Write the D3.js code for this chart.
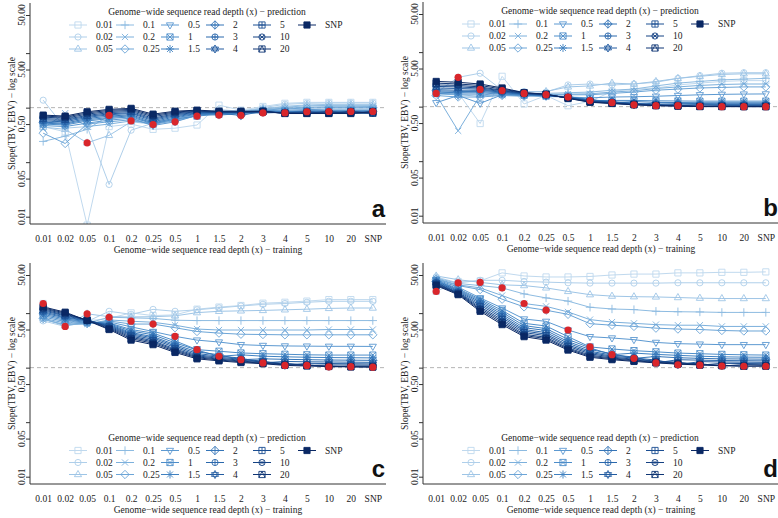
<!DOCTYPE html>
<html>
<head>
<meta charset="utf-8">
<script src="https://cdn.jsdelivr.net/npm/d3@7"></script>
<style>
  body { margin: 0; background: #fff; }
  text { font-family: "Liberation Serif", "Times New Roman", serif; }
  text.letter { font-family: "Liberation Sans", Arial, sans-serif; font-weight: bold; }
</style>
</head>
<body>
<svg id="chart" width="778" height="518"></svg>
<script>
// read depths, used both as training (x) and prediction (series)
const depths = ["0.01", "0.02", "0.05", "0.1", "0.2", "0.25", "0.5", "1", "1.5", "2", "3", "4", "5", "10", "20", "SNP"];
const yTicks = [0.01, 0.05, 0.1, 0.5, 1, 5, 10, 50];
const yTickLabels = ["0.01", "0.05", "", "0.50", "", "5.00", "", "50.00"];

// rows = prediction depth (series), columns = training depth
const panelA = [
  [0.45, 0.36, 0.007, 0.45, 0.50, 0.40, 0.42, 0.48, 1.11, 0.90, 1.05, 1.20, 1.25, 1.25, 1.25, 1.25],
  [1.37, 0.42, 0.45, 0.039, 0.386, 0.52, 0.56, 0.72, 0.92, 0.86, 1.00, 1.15, 1.20, 1.22, 1.22, 1.22],
  [0.44, 0.40, 0.226, 0.31, 0.55, 0.50, 0.60, 0.74, 0.86, 0.86, 0.96, 1.06, 1.12, 1.15, 1.15, 1.15],
  [0.24, 0.30, 0.40, 0.72, 0.62, 0.55, 0.62, 0.75, 0.84, 0.84, 0.94, 1.02, 1.08, 1.10, 1.10, 1.10],
  [0.42, 0.79, 0.45, 0.50, 0.57, 0.52, 0.60, 0.74, 0.82, 0.82, 0.92, 0.98, 1.02, 1.04, 1.04, 1.05],
  [0.34, 0.22, 0.50, 0.55, 0.60, 0.49, 0.58, 0.72, 0.80, 0.82, 0.90, 0.95, 0.98, 1.00, 1.00, 1.00],
  [0.47, 0.45, 0.52, 0.59, 0.64, 0.47, 0.55, 0.72, 0.78, 0.80, 0.88, 0.90, 0.92, 0.94, 0.94, 0.94],
  [0.50, 0.48, 0.57, 0.63, 0.68, 0.50, 0.62, 0.70, 0.76, 0.78, 0.87, 0.86, 0.88, 0.88, 0.88, 0.88],
  [0.52, 0.50, 0.60, 0.66, 0.71, 0.52, 0.65, 0.76, 0.73, 0.78, 0.86, 0.84, 0.86, 0.86, 0.86, 0.86],
  [0.54, 0.52, 0.63, 0.70, 0.74, 0.55, 0.68, 0.78, 0.79, 0.72, 0.86, 0.83, 0.84, 0.84, 0.84, 0.84],
  [0.57, 0.55, 0.66, 0.74, 0.78, 0.58, 0.71, 0.80, 0.80, 0.80, 0.80, 0.82, 0.82, 0.82, 0.82, 0.82],
  [0.60, 0.58, 0.69, 0.77, 0.81, 0.61, 0.74, 0.82, 0.81, 0.81, 0.84, 0.80, 0.81, 0.81, 0.81, 0.81],
  [0.63, 0.61, 0.72, 0.81, 0.85, 0.64, 0.77, 0.84, 0.82, 0.82, 0.84, 0.80, 0.84, 0.80, 0.80, 0.80],
  [0.67, 0.64, 0.76, 0.85, 0.89, 0.68, 0.80, 0.86, 0.83, 0.83, 0.84, 0.79, 0.79, 0.85, 0.79, 0.79],
  [0.70, 0.67, 0.80, 0.89, 0.93, 0.72, 0.83, 0.88, 0.84, 0.84, 0.85, 0.79, 0.79, 0.79, 0.85, 0.79],
  [0.73, 0.70, 0.84, 0.93, 0.97, 0.76, 0.86, 0.90, 0.86, 0.86, 0.86, 0.78, 0.78, 0.78, 0.78, 0.85]
];

const panelB = [
  [1.75, 1.80, 0.49, 3.60, 1.12, 1.60, 1.04, 1.25, 1.90, 2.10, 2.20, 2.50, 2.70, 2.90, 3.00, 3.00],
  [1.80, 3.45, 4.10, 2.00, 1.90, 1.85, 2.50, 2.60, 2.50, 2.60, 2.80, 3.30, 3.70, 4.10, 4.20, 4.20],
  [1.90, 1.75, 2.07, 1.80, 1.85, 1.90, 2.30, 2.40, 2.70, 2.60, 2.90, 3.30, 3.60, 3.90, 4.00, 4.00],
  [1.70, 1.65, 1.55, 1.97, 1.72, 1.75, 1.80, 1.85, 2.00, 2.10, 2.40, 2.70, 2.90, 3.10, 3.20, 3.30],
  [1.65, 0.36, 1.60, 1.62, 1.75, 1.68, 1.70, 1.72, 1.85, 1.95, 2.15, 2.30, 2.45, 2.55, 2.60, 2.60],
  [1.60, 1.50, 1.50, 1.60, 1.55, 1.66, 1.65, 1.65, 1.75, 1.85, 2.00, 2.10, 2.20, 2.25, 2.30, 2.30],
  [1.18, 1.60, 1.15, 1.65, 1.58, 1.54, 1.50, 1.45, 1.50, 1.52, 1.55, 1.60, 1.65, 1.68, 1.70, 1.71],
  [1.75, 1.70, 1.70, 1.70, 1.62, 1.56, 1.54, 1.29, 1.30, 1.30, 1.28, 1.27, 1.26, 1.26, 1.26, 1.26],
  [1.85, 1.80, 1.80, 1.75, 1.65, 1.58, 1.52, 1.36, 1.18, 1.24, 1.20, 1.19, 1.18, 1.18, 1.18, 1.18],
  [1.95, 1.90, 1.90, 1.80, 1.68, 1.60, 1.50, 1.33, 1.25, 1.08, 1.17, 1.15, 1.14, 1.13, 1.13, 1.13],
  [2.05, 2.00, 2.00, 1.85, 1.70, 1.62, 1.48, 1.30, 1.22, 1.17, 1.04, 1.11, 1.10, 1.10, 1.10, 1.10],
  [2.20, 2.15, 2.10, 1.90, 1.72, 1.64, 1.46, 1.28, 1.20, 1.14, 1.10, 1.04, 1.07, 1.06, 1.06, 1.06],
  [2.35, 2.30, 2.20, 1.95, 1.75, 1.65, 1.45, 1.26, 1.18, 1.12, 1.08, 1.06, 1.01, 1.04, 1.04, 1.04],
  [2.50, 2.45, 2.30, 2.00, 1.78, 1.66, 1.44, 1.24, 1.16, 1.10, 1.06, 1.04, 1.02, 1.00, 1.01, 1.01],
  [2.70, 2.60, 2.45, 2.10, 1.80, 1.68, 1.43, 1.22, 1.15, 1.09, 1.05, 1.03, 1.01, 1.01, 1.00, 1.00],
  [2.90, 2.80, 2.60, 2.20, 1.80, 1.70, 1.42, 1.20, 1.14, 1.08, 1.04, 1.02, 1.00, 1.00, 1.00, 1.00]
];

const panelC = [
  [15.0, 7.5, 7.2, 8.0, 10.1, 9.0, 9.3, 11.8, 12.9, 13.8, 15.2, 15.8, 16.6, 17.7, 17.7, 17.7],
  [7.2, 5.7, 7.0, 10.8, 9.5, 11.7, 10.8, 11.5, 12.5, 13.5, 14.5, 15.0, 15.8, 16.5, 16.5, 16.5],
  [7.9, 5.8, 9.7, 8.6, 8.5, 8.6, 8.9, 10.2, 10.8, 11.0, 11.2, 11.5, 11.8, 12.2, 12.4, 12.4],
  [7.8, 6.0, 6.5, 8.4, 8.2, 8.0, 7.4, 7.3, 7.3, 7.3, 7.3, 7.3, 7.3, 7.3, 7.3, 7.3],
  [7.6, 6.2, 6.3, 7.5, 7.1, 6.8, 6.0, 5.1, 4.9, 4.9, 4.9, 4.9, 4.9, 5.0, 5.0, 5.0],
  [8.0, 6.6, 6.4, 7.2, 6.3, 6.3, 5.4, 4.6, 4.3, 4.1, 4.05, 4.0, 4.0, 4.0, 4.0, 4.0],
  [8.5, 7.0, 6.6, 6.9, 5.6, 4.6, 3.75, 3.2, 2.95, 2.64, 2.55, 2.5, 2.48, 2.46, 2.46, 2.45],
  [9.0, 7.4, 6.8, 6.6, 5.0, 4.3, 3.1, 2.14, 2.0, 1.86, 1.8, 1.76, 1.72, 1.7, 1.7, 1.7],
  [9.5, 7.8, 7.0, 6.4, 4.7, 4.0, 2.85, 2.1, 1.61, 1.72, 1.62, 1.58, 1.55, 1.53, 1.52, 1.51],
  [10.0, 8.2, 7.2, 6.2, 4.4, 3.7, 2.65, 1.95, 1.72, 1.4, 1.45, 1.42, 1.4, 1.38, 1.37, 1.36],
  [10.5, 8.5, 7.3, 6.0, 4.2, 3.5, 2.5, 1.82, 1.62, 1.5, 1.22, 1.3, 1.28, 1.27, 1.26, 1.25],
  [11.0, 8.9, 7.4, 5.8, 4.0, 3.3, 2.35, 1.72, 1.55, 1.42, 1.32, 1.1, 1.2, 1.19, 1.18, 1.17],
  [11.5, 9.2, 7.5, 5.6, 3.8, 3.1, 2.2, 1.65, 1.48, 1.37, 1.28, 1.2, 1.1, 1.12, 1.12, 1.11],
  [12.0, 9.6, 7.5, 5.4, 3.6, 2.95, 2.1, 1.58, 1.43, 1.32, 1.24, 1.17, 1.13, 1.03, 1.07, 1.06],
  [12.5, 10.0, 7.4, 5.2, 3.4, 2.8, 2.0, 1.52, 1.38, 1.28, 1.21, 1.13, 1.1, 1.07, 1.04, 1.04],
  [13.0, 10.4, 7.3, 5.0, 3.2, 2.64, 1.9, 1.45, 1.33, 1.24, 1.18, 1.1, 1.07, 1.05, 1.03, 1.02]
];

const panelD = [
  [25, 38, 39, 54.7, 48, 46, 46, 47, 50, 52, 52, 54.7, 54.7, 56, 56, 57],
  [46, 35.8, 40, 40, 38, 37, 36, 35.5, 35.5, 35.5, 35.5, 36, 36, 36, 36, 36],
  [48, 41, 36.7, 33, 32, 29, 25, 21.8, 20.5, 20, 19.8, 19.3, 18.8, 18.5, 18.5, 18.5],
  [44, 35, 32, 29, 22.5, 19, 16.6, 12.8, 11.9, 11.6, 10.8, 10.6, 10.5, 10.3, 10.3, 10.3],
  [43, 33, 29, 21, 15, 13.3, 10.5, 7.6, 6.85, 6.5, 6.15, 6.0, 6.0, 5.7, 5.7, 5.7],
  [42, 32, 27, 18, 13, 11.3, 9.5, 6.4, 6.0, 5.7, 5.3, 5.1, 5.0, 4.8, 4.7, 4.7],
  [41, 30, 19, 12.4, 7.8, 7.06, 4.9, 3.7, 3.5, 3.26, 2.9, 2.75, 2.7, 2.64, 2.64, 2.64],
  [40, 28, 18, 11.2, 6.5, 5.8, 3.7, 2.4, 2.2, 2.05, 1.95, 1.85, 1.8, 1.75, 1.72, 1.7],
  [39, 27, 17, 10.3, 5.9, 5.2, 3.3, 2.3, 1.73, 1.85, 1.75, 1.68, 1.62, 1.58, 1.56, 1.55],
  [38, 26, 16, 9.5, 5.4, 4.8, 3.0, 2.15, 1.8, 1.48, 1.6, 1.52, 1.48, 1.45, 1.44, 1.43],
  [37, 25, 15, 8.8, 5.0, 4.4, 2.8, 2.0, 1.7, 1.57, 1.22, 1.4, 1.37, 1.35, 1.34, 1.33],
  [36, 24, 14, 8.2, 4.7, 4.1, 2.6, 1.9, 1.62, 1.5, 1.38, 1.13, 1.29, 1.27, 1.26, 1.25],
  [35, 23.5, 13, 7.6, 4.4, 3.85, 2.45, 1.8, 1.56, 1.43, 1.32, 1.26, 1.11, 1.2, 1.19, 1.18],
  [34, 23, 12.2, 7.1, 4.1, 3.6, 2.3, 1.7, 1.5, 1.38, 1.28, 1.22, 1.18, 1.07, 1.14, 1.13],
  [33, 22.5, 11.5, 6.6, 3.9, 3.4, 2.2, 1.62, 1.45, 1.34, 1.25, 1.19, 1.14, 1.11, 1.06, 1.09],
  [32, 21.8, 10.8, 6.15, 3.7, 3.2, 2.1, 1.55, 1.4, 1.3, 1.22, 1.16, 1.12, 1.08, 1.07, 1.06]
];

// diagonal points (training = prediction) not visible in the reference
const hiddenDiag = [[0, 1], [], [], []];
const panelLetters = ["a", "b", "c", "d"];

const colors = d3.quantize(
  d3.interpolateRgbBasis(["#c0d9ee", "#80b4df", "#4287c8", "#1d58a0", "#0a2864"]), 16);

const svg = d3.select("#chart");

const PLOT_L = 30, PLOT_R = 386, PLOT_T = 3, PLOT_B = 224;

// R style plotting symbols, pch 0..15
function markPath(pch) {
  const r = 3.1;
  const sq = `M${-r},${-r}H${r}V${r}H${-r}Z`;
  const circ = `M${r},0A${r},${r} 0 1,1 ${-r},0A${r},${r} 0 1,1 ${r},0Z`;
  const plus = k => `M${-r * k},0H${r * k}M0,${-r * k}V${r * k}`;
  const cross = k => `M${-r * k},${-r * k}L${r * k},${r * k}M${-r * k},${r * k}L${r * k},${-r * k}`;
  const triUp = `M0,${-r * 1.3}L${r * 1.15},${r * 0.7}L${-r * 1.15},${r * 0.7}Z`;
  const triDown = `M0,${r * 1.3}L${r * 1.15},${-r * 0.7}L${-r * 1.15},${-r * 0.7}Z`;
  const dia = `M0,${-r * 1.35}L${r * 1.35},0L0,${r * 1.35}L${-r * 1.35},0Z`;
  switch (pch) {
    case 0: return sq;
    case 1: return circ;
    case 2: return triUp;
    case 3: return plus(1.35);
    case 4: return cross(1);
    case 5: return dia;
    case 6: return triDown;
    case 7: return sq + cross(1);
    case 8: return plus(1.3) + cross(0.95);
    case 9: return dia + plus(1.35);
    case 10: return circ + plus(1);
    case 11: return `M0,${-r * 1.3}L${r * 1.15},${r * 0.6}L${-r * 1.15},${r * 0.6}Z` +
                    `M0,${r * 1.3}L${r * 1.15},${-r * 0.6}L${-r * 1.15},${-r * 0.6}Z`;
    case 12: return sq + plus(1);
    case 13: return circ + cross(0.7);
    case 14: return sq + `M${-r},${r}L0,${-r}L${r},${r}`;
    default: return sq;
  }
}

function drawMark(g, pch, color, cx, cy) {
  g.append("path")
    .attr("transform", `translate(${cx},${cy})`)
    .attr("d", markPath(pch))
    .attr("fill", pch === 15 ? color : "none")
    .attr("stroke", color)
    .attr("stroke-width", 0.9);
}

const panels = [
  { data: panelA, ox: 0, oy: 0, legendTop: true },
  { data: panelB, ox: 393, oy: -1, legendTop: true },
  { data: panelC, ox: 0, oy: 260, legendTop: false },
  { data: panelD, ox: 393, oy: 260, legendTop: false }
];

panels.forEach((p, pi) => {
  const g = svg.append("g").attr("transform", `translate(${p.ox},${p.oy})`);

  const x = d3.scalePoint().domain(depths).range([PLOT_L, PLOT_R]).padding(0.6);
  const y = d3.scaleLog().domain([0.01, 50]).range([216.7, 15]);

  const clipId = `clip${pi}`;
  g.append("clipPath").attr("id", clipId)
    .append("rect")
    .attr("x", PLOT_L).attr("y", PLOT_T)
    .attr("width", PLOT_R - PLOT_L + 4).attr("height", PLOT_B - PLOT_T);

  // reference line at slope 1
  g.append("line")
    .attr("x1", PLOT_L).attr("x2", PLOT_R)
    .attr("y1", y(1)).attr("y2", y(1))
    .attr("stroke", "#b4b4b4")
    .attr("stroke-dasharray", "4,3");

  const plot = g.append("g").attr("clip-path", `url(#${clipId})`);

  const line = d3.line()
    .x((d, i) => x(depths[i]))
    .y(d => y(d));

  p.data.forEach((row, s) => {
    plot.append("path")
      .datum(row)
      .attr("d", line)
      .attr("fill", "none")
      .attr("stroke", colors[s])
      .attr("stroke-width", 1);
    row.forEach((v, t) => drawMark(plot, s, colors[s], x(depths[t]), y(v)));
  });

  // diagonal: training depth equals prediction depth
  plot.selectAll(".diag")
    .data(depths.map((d, i) => i).filter(i => !hiddenDiag[pi].includes(i)))
    .enter()
    .append("circle")
    .attr("cx", i => x(depths[i]))
    .attr("cy", i => y(p.data[i][i]))
    .attr("r", 3.6)
    .attr("fill", "#d9262b");

  // axes box (bty = "l")
  g.append("path")
    .attr("d", `M${PLOT_L},${PLOT_T}V${PLOT_B}H${PLOT_R}`)
    .attr("fill", "none")
    .attr("stroke", "#333")
    .attr("stroke-width", 1);

  const yAxis = g.append("g")
    .attr("transform", `translate(${PLOT_L},0)`)
    .call(d3.axisLeft(y).tickValues(yTicks).tickFormat("").tickSize(4).tickSizeOuter(0));
  yAxis.select(".domain").remove();
  yAxis.selectAll("line").attr("stroke", "#333");

  yTicks.forEach((v, i) => {
    if (!yTickLabels[i]) return;
    g.append("text")
      .attr("transform", `translate(25,${y(v)}) rotate(-90)`)
      .attr("text-anchor", "middle")
      .attr("font-size", 9.5)
      .attr("fill", "#222")
      .text(yTickLabels[i]);
  });

  const xAxis = g.append("g")
    .attr("transform", `translate(0,${PLOT_B})`)
    .call(d3.axisBottom(x).tickSize(0).tickPadding(11));
  xAxis.select(".domain").remove();
  xAxis.selectAll("text")
    .attr("font-size", 9.5)
    .attr("fill", "#222");

  g.append("text")
    .attr("x", (PLOT_L + PLOT_R) / 2)
    .attr("y", 253)
    .attr("text-anchor", "middle")
    .attr("font-size", 9.5)
    .attr("fill", "#222")
    .text("Genome\u2212wide sequence read depth (x) \u2212 training");

  g.append("text")
    .attr("transform", `translate(15,${(PLOT_T + PLOT_B) / 2}) rotate(-90)`)
    .attr("text-anchor", "middle")
    .attr("font-size", 9.5)
    .attr("fill", "#222")
    .text("Slope(TBV, EBV) \u2212 log scale");

  // legend, 6 columns of 3
  const base = p.legendTop ? 25 : 190.5;
  const colSym = [78, 125, 170, 215, 262, 307];
  g.append("text")
    .attr("x", 207)
    .attr("y", base - 10)
    .attr("text-anchor", "middle")
    .attr("font-size", 9.5)
    .attr("fill", "#222")
    .text("Genome\u2212wide sequence read depth (x) \u2212 prediction");

  depths.forEach((d, s) => {
    const col = Math.floor(s / 3), row = s % 3;
    const sx = colSym[col], sy = base + row * 12;
    g.append("line")
      .attr("x1", sx - 9).attr("x2", sx + 9)
      .attr("y1", sy).attr("y2", sy)
      .attr("stroke", colors[s]);
    drawMark(g, s, colors[s], sx, sy);
    g.append("text")
      .attr("x", sx + 18)
      .attr("y", sy + 3.3)
      .attr("font-size", 9.5)
      .attr("fill", "#222")
      .text(d);
  });

  g.append("text")
    .attr("class", "letter")
    .attr("x", 385)
    .attr("y", 217)
    .attr("text-anchor", "end")
    .attr("font-size", 24)
    .attr("fill", "#111")
    .text(panelLetters[pi]);
});
</script>
</body>
</html>
